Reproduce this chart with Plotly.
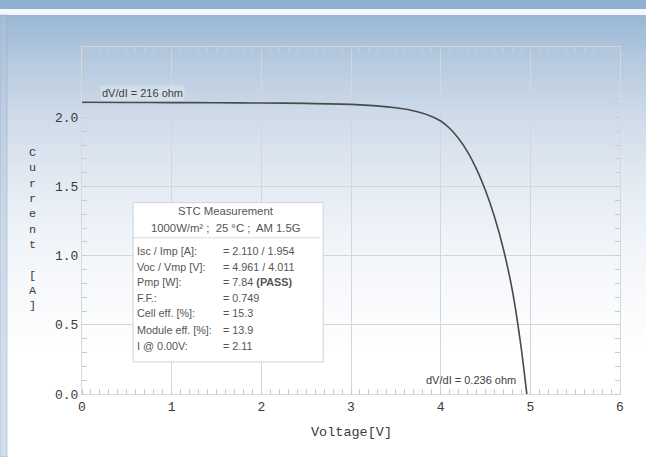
import plotly.graph_objects as go

# ---- data ----
voltage = [0.0, 0.5, 1.0, 1.5, 2.0, 2.5, 3.0, 3.5, 3.75, 3.9, 4.0, 4.1, 4.2, 4.3,
           4.4, 4.5, 4.6, 4.7, 4.8, 4.9, 4.961]
current = [2.110, 2.109, 2.108, 2.107, 2.105, 2.102, 2.095, 2.070, 2.040, 2.008, 1.975,
           1.922, 1.848, 1.752, 1.627, 1.472, 1.282, 1.047, 0.747, 0.325, 0.0]

x_ticks = [0, 1, 2, 3, 4, 5, 6]
y_ticks = [0.0, 0.5, 1.0, 1.5, 2.0]
y_tick_labels = ["0.0", "0.5", "1.0", "1.5", "2.0"]

box_title = "STC Measurement"
box_subtitle = "1000W/m² ;  25 °C ;  AM 1.5G"
row_labels = ["Isc / Imp [A]:", "Voc / Vmp [V]:", "Pmp [W]:", "F.F.:",
              "Cell eff. [%]:", "Module eff. [%]:", "I @ 0.00V:"]
row_values = ["= 2.110 / 1.954", "= 4.961 / 4.011", "= 7.84 <b>(PASS)</b>", "= 0.749",
              "= 15.3", "= 13.9", "= 2.11"]
slope_start_label = "dV/dI = 216 ohm"
slope_end_label = "dV/dI = 0.236 ohm"

W, H = 646, 457
L, R, T, B = 82, 26, 47, 63
PW, PH = W - L - R, H - T - B


def px_to_paper_y(p):
    return (H - B - p) / PH


def px_to_paper_x(q):
    return (q - L) / PW


fig = go.Figure()
fig.add_trace(go.Scatter(x=voltage, y=current, mode="lines",
                         line=dict(color="#4a4a4a", width=1.6, shape="spline", smoothing=0.5),
                         hoverinfo="skip", showlegend=False))

shapes = []
# background gradient
stops = [(15, (152, 182, 212)), (60, (182, 202, 223)), (120, (208, 220, 234)),
         (180, (227, 234, 242)), (240, (240, 244, 249)), (300, (249, 250, 252)),
         (345, (254, 254, 255))]


def grad(p):
    for (p0, c0), (p1, c1) in zip(stops[:-1], stops[1:]):
        if p0 <= p <= p1:
            t = (p - p0) / (p1 - p0)
            return tuple(round(a + (b - a) * t) for a, b in zip(c0, c1))
    return stops[-1][1]


step = 5
p = 15
while p < 350:
    c = grad(p + step / 2)
    shapes.append(dict(type="rect", xref="paper", yref="paper",
                       x0=px_to_paper_x(0), x1=px_to_paper_x(W),
                       y0=px_to_paper_y(p + step + 0.5), y1=px_to_paper_y(p),
                       fillcolor="rgb(%d,%d,%d)" % c, line=dict(width=0), layer="below"))
    p += step
# top banner
shapes.append(dict(type="rect", xref="paper", yref="paper",
                   x0=px_to_paper_x(0), x1=px_to_paper_x(W),
                   y0=px_to_paper_y(9), y1=px_to_paper_y(0),
                   fillcolor="#8fb0d2", line=dict(width=0), layer="below"))
shapes.append(dict(type="rect", xref="paper", yref="paper",
                   x0=px_to_paper_x(0), x1=px_to_paper_x(W),
                   y0=px_to_paper_y(15), y1=px_to_paper_y(9),
                   fillcolor="#f4f8fb", line=dict(width=0), layer="below"))
# left strip
shapes.append(dict(type="rect", xref="paper", yref="paper",
                   x0=px_to_paper_x(0), x1=px_to_paper_x(7),
                   y0=px_to_paper_y(H), y1=px_to_paper_y(15),
                   fillcolor="rgba(175,195,218,0.55)", line=dict(color="rgba(150,170,195,0.5)", width=1),
                   layer="below"))

# info box (data coordinates)
shapes.append(dict(type="rect", xref="x", yref="y", x0=0.57, x1=2.69, y0=0.232, y1=1.384,
                   fillcolor="white", line=dict(color="#cfd3d8", width=1), layer="above"))
shapes.append(dict(type="line", xref="x", yref="y", x0=0.57, x1=2.65, y0=1.13, y1=1.13,
                   line=dict(color="#d8dbde", width=1), layer="above"))

fig.update_layout(shapes=shapes)

ann = []
box_font = dict(family="Liberation Sans, Arial, sans-serif", size=10.8, color="#555555")
ann.append(dict(x=1.61, y=1.326, xref="x", yref="y", text=box_title, showarrow=False,
                font=dict(box_font, size=11.3), xanchor="center", yanchor="middle"))
ann.append(dict(x=1.61, y=1.203, xref="x", yref="y", text=box_subtitle, showarrow=False,
                font=dict(box_font, size=11.3), xanchor="center", yanchor="middle"))
row_y = [1.036, 0.920, 0.812, 0.696, 0.587, 0.464, 0.348]
for lab, val, yy in zip(row_labels, row_values, row_y):
    ann.append(dict(x=0.59, y=yy, xref="x", yref="y", text=lab, showarrow=False,
                    font=box_font, xanchor="left", yanchor="middle"))
    ann.append(dict(x=1.545, y=yy, xref="x", yref="y", text=val, showarrow=False,
                    font=box_font, xanchor="left", yanchor="middle"))

lab_font = dict(family="Liberation Sans, Arial, sans-serif", size=11, color="#404040")
ann.append(dict(x=0.68, y=2.18, xref="x", yref="y", text=slope_start_label, showarrow=False,
                font=lab_font, xanchor="center", yanchor="middle",
                bgcolor="rgba(255,255,255,0.25)"))
ann.append(dict(x=4.86, y=0.10, xref="x", yref="y", text=slope_end_label, showarrow=False,
                font=lab_font, xanchor="right", yanchor="middle"))

mono = "Liberation Mono, Courier New, monospace"
ann.append(dict(x=px_to_paper_x(33), y=px_to_paper_y(229), xref="paper", yref="paper",
                text="<br>".join(list("Current [A]")).replace("<br> <br>", "<br>&nbsp;<br>"),
                showarrow=False, font=dict(family=mono, size=11.8, color="#3a3a3a"),
                xanchor="center", yanchor="middle", align="center"))
ann.append(dict(x=0.5, y=px_to_paper_y(432), xref="paper", yref="paper", text="Voltage[V]",
                showarrow=False, font=dict(family=mono, size=13.5, color="#3a3a3a"),
                xanchor="center", yanchor="middle"))
fig.update_layout(annotations=ann)

grid_c = "#d3d7db"
fig.update_xaxes(range=[0, 6], tickvals=x_ticks, ticktext=[str(v) for v in x_ticks],
                 showgrid=True, gridcolor=grid_c, gridwidth=1, zeroline=False,
                 showline=True, linecolor="#d6d9dc", linewidth=1, mirror="ticks",
                 ticks="", tickfont=dict(family=mono, size=13, color="#3a3a3a"),
                 minor=dict(dtick=0.1, ticks="inside", ticklen=5, tickcolor="#c8ccd0",
                            showgrid=False))
fig.update_yaxes(range=[0, 2.51], tickvals=y_ticks, ticktext=y_tick_labels,
                 showgrid=True, gridcolor=grid_c, gridwidth=1, zeroline=False,
                 showline=True, linecolor="#d6d9dc", linewidth=1, mirror="ticks",
                 ticks="", tickfont=dict(family=mono, size=13, color="#3a3a3a"),
                 minor=dict(dtick=0.1, ticks="inside", ticklen=5, tickcolor="#c8ccd0",
                            showgrid=False))

fig.update_layout(width=W, height=H, margin=dict(l=L, r=R, t=T, b=B),
                  paper_bgcolor="white", plot_bgcolor="rgba(0,0,0,0)",
                  showlegend=False)

fig.write_html("out.html", config={"displayModeBar": False},
               post_script="document.body.style.margin='0';")
